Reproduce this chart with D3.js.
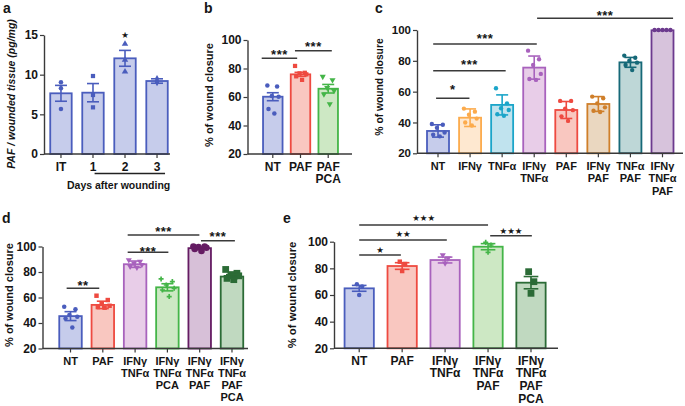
<!DOCTYPE html>
<html><head><meta charset="utf-8">
<script src="https://cdn.jsdelivr.net/npm/d3@7"></script>
<style>
body{margin:0;background:#fff;}
svg text{font-family:"Liberation Sans",Arial,Helvetica,sans-serif;font-weight:bold;fill:#151515;}
</style></head><body>
<svg id="chart" width="685" height="406"></svg>
<script>
// ---------- DATA ----------
// Panel a
const aCategories = [["IT"],["1"],["2"],["3"]];
const aMeans = [7.65, 7.73, 12.06, 9.2];
const aErrors = [1.0, 1.15, 1.0, 0.28];
const aPoints = [[9.03,8.28,5.67],[9.83,7.44,5.88],[13.87,11.85,10.38],[9.5,9.2,9.0]];
const aTicks = [0,5,10,15];
const aSig = [[2,2,null,"★",15.0]];
// Panel b
const bCategories = [["NT"],["PAF"],["PAF","PCA"]];
const bMeans = [60.2, 75.9, 65.8];
const bErrors = [2.8, 1.4, 3.0];
const bPoints = [[68,67.3,60.7,60.2,51.6,48.5],[81.8,77,76.6,75.9,74.5,72],[74.3,72,66.5,64.4,62,55.1]];
const bTicks = [20,40,60,80,100];
const bSig = [[-0.4,0.88,87.2,"***",91.8],[0.8,2.13,92.5,"***",97.7]];
// Panel c
const cCategories = [["NT"],["IFNγ"],["TNFα"],["IFNγ","TNFα"],["PAF"],["IFNγ","PAF"],["TNFα","PAF"],["IFNγ","TNFα","PAF"]];
const cMeans = [34.5, 43.1, 51.4, 75.6, 48.1, 52, 79, 99.8];
const cErrors = [4.0, 5.7, 6.5, 7.5, 5.5, 4.8, 3.2, 0];
const cPoints = [[39,38.5,36.5,33.5,32,31],[49,47,45,42.5,40,38],[62.2,52.4,49.2,48.1,45.3,44.4],[86.6,81,77.3,71.5,68.2,67.6],[54,54,49,48,44,41],[56.8,55.7,52.4,49.8,47.6,46.8],[83.4,82,80.1,78.8,77.3,74],[100,100,100,100,100]];
const cTicks = [20,40,60,80,100];
const cSig = [[-0.06,0.98,55.7,"*",63.2],[-0.15,2.11,73.6,"***",79.4],[-0.15,3.08,90.9,"***",96.3],[3.09,7.33,107.6,"***",111.2]];
// Panel d
const dCategories = [["NT"],["PAF"],["IFNγ","TNFα"],["IFNγ","TNFα","PCA"],["IFNγ","TNFα","PAF"],["IFNγ","TNFα","PAF","PCA"]];
const dMeans = [45.4, 54.2, 86.1, 68, 98.7, 76.4];
const dErrors = [3.5, 2.9, 2.5, 2.8, 0.8, 1.5];
const dPoints = [[52.8,50.7,46.2,44.9,43.6,36.5],[61.4,58,55,53.5,52.5,52],[89.5,88.2,86.9,85.6,84.3,83.5],[74.6,72.5,69.8,67.2,65.9,60.7],[100,100,99.5,99,98,96.5],[82,79,78,77,75,74]];
const dTicks = [20,40,60,80,100];
const dSig = [[-0.12,0.89,67.2,"**",71.6],[1.77,3.03,95.5,"***",98.5],[1.77,3.99,109,"***",113.7],[4.04,5.09,104.5,"***",109.8]];
// Panel e
const eCategories = [["NT"],["PAF"],["IFNγ","TNFα"],["IFNγ","TNFα","PAF"],["IFNγ","TNFα","PAF","PCA"]];
const eMeans = [65, 81.75, 86.25, 96.25, 69.25];
const eErrors = [2.2, 2.5, 2.2, 2.3, 4.6];
const ePoints = [[68,66.3,60],[85,83.25,78],[90,87.5,83.75],[99.5,97.5,92],[77.5,70,61.25]];
const eTicks = [20,40,60,80,100];
const eSig = [[0,0.97,90,"★",93.8],[0,2.04,101.3,"★★",105.8],[0,3.0,112.5,"★★★",117.8],[3.05,4.02,104.5,"★★★",108.3]];

// ---------- STYLE ----------
const palette = {
  blue:{stroke:"#4a5dbd", fill:"#c6cceb"},
  red:{stroke:"#ee4a40", fill:"#f9c7c0"},
  green:{stroke:"#44b548", fill:"#cde8c4"},
  orange:{stroke:"#fcab4c", fill:"#fee8d0"},
  cyan:{stroke:"#1ba5c9", fill:"#c0e3ee"},
  purple:{stroke:"#a862bd", fill:"#e8cde8"},
  brown:{stroke:"#cf7f2a", fill:"#ead7c0"},
  teal:{stroke:"#166978", fill:"#bed7d7"},
  plum:{stroke:"#6c3a8e", fill:"#d7c3dc"},
  wine:{stroke:"#651c63", fill:"#d7c0d8"},
  forest:{stroke:"#2b6b36", fill:"#c0d9c0"}
};
const axisColor = "#3a3a3a";
const j6 = [-0.28, 0.22, -0.05, 0.3, -0.22, 0.08];
const j5 = [-0.36,-0.18,0,0.18,0.36];
const j3 = [0,0,0];
const j3e = [-0.08,0.1,0];

const panels = [
  {letter:"a", lx:3, ly:13, cats:aCategories, means:aMeans, errs:aErrors, pts:aPoints, ticks:aTicks, sig:aSig,
   domain:[0,15], yRange:[154,35], xRange:[44,174], pi:0.33, po:0.195, axisEnd:170,
   colors:["blue","blue","blue","blue"], shapes:["circle","square","triangle","diamond"], sizes:[16,18,18,16],
   jit:[j3,j3,j3,j3], title:"PAF / wounded tissue (pg/mg)", italic:true, titleX:15, titleY:94, titleFont:10.5,
   tickFont:12, labFont:12, lineH:12.5},
  {letter:"b", lx:204, ly:13, cats:bCategories, means:bMeans, errs:bErrors, pts:bPoints, ticks:bTicks, sig:bSig,
   domain:[20,100], yRange:[154,40], xRange:[247.5,353.5], pi:0.296, po:0.561, axisEnd:352,
   colors:["blue","red","green"], shapes:["circle","square","triangleDown"], sizes:[16,18,16],
   jit:[j6,j6,j6], title:"% of wound closure", titleX:213, titleY:95, titleFont:11,
   tickFont:12, labFont:12, lineH:12.5},
  {letter:"c", lx:375, ly:13, cats:cCategories, means:cMeans, errs:cErrors, pts:cPoints, ticks:cTicks, sig:cSig,
   domain:[20,100], yRange:[153.3,30], xRange:[417,683.5], pi:0.314, po:0.312, axisEnd:683,
   colors:["blue","orange","cyan","purple","red","brown","teal","plum"], shapes:Array(8).fill("circle"), sizes:Array(8).fill(15),
   jit:[j6,j6,j6,j6,j6,j6,j6,j5], title:"% of wound closure", titleX:383, titleY:87, titleFont:10.3,
   tickFont:11.5, labFont:11, lineH:12.5},
  {letter:"d", lx:2, ly:223, cats:dCategories, means:dMeans, errs:dErrors, pts:dPoints, ticks:dTicks, sig:dSig,
   domain:[20,100], yRange:[348.5,246.5], xRange:[42.5,260], pi:0.303, po:0.519, axisEnd:248,
   colors:["blue","red","purple","green","wine","forest"], shapes:["circle","square","triangleDown","cross","circle","square"], sizes:[16,20,16,14,34,46],
   jit:[j6,j6,j6,j6,j6,j6], title:"% of wound closure", titleX:12.5, titleY:295, titleFont:11,
   tickFont:12, labFont:11, lineH:12},
  {letter:"e", lx:283, ly:223, cats:eCategories, means:eMeans, errs:eErrors, pts:ePoints, ticks:eTicks, sig:eSig,
   domain:[20,100], yRange:[348.3,241.7], xRange:[334,556.2], pi:0.318, po:0.246, axisEnd:558,
   colors:["blue","red","purple","green","forest"], shapes:["circle","square","triangleDown","cross","square"], sizes:[16,20,16,14,46],
   jit:[j3e,j3e,j3e,j3e,j3e], title:"% of wound closure", titleX:296, titleY:295, titleFont:11.3,
   tickFont:12, labFont:12, lineH:12.7}
];

const svg = d3.select("#chart");
const symType = {circle:d3.symbolCircle, square:d3.symbolSquare, triangle:d3.symbolTriangle,
  triangleDown:d3.symbolTriangle, diamond:d3.symbolDiamond, cross:d3.symbolCross};

function drawPanel(p) {
  const g = svg.append("g");
  const n = p.cats.length;
  const x = d3.scaleBand().domain(d3.range(n)).range(p.xRange).paddingInner(p.pi).paddingOuter(p.po);
  const y = d3.scaleLinear().domain(p.domain).range(p.yRange);
  const bw = x.bandwidth();
  const cx = i => x(i) + bw/2;
  const fx = f => cx(0) + f * x.step();
  const base = y(p.domain[0]);

  // bars
  g.selectAll("rect.bar").data(p.means).join("rect").attr("class","bar")
    .attr("x", (d,i) => x(i)).attr("y", d => y(d))
    .attr("width", bw).attr("height", d => base - y(d))
    .attr("fill", (d,i) => palette[p.colors[i]].fill)
    .attr("stroke", (d,i) => palette[p.colors[i]].stroke)
    .attr("stroke-width", 1.8);

  // points
  p.pts.forEach((arr, i) => {
    const col = palette[p.colors[i]].stroke;
    const sym = d3.symbol().type(symType[p.shapes[i]]).size(p.sizes[i]);
    g.selectAll(null).data(arr).join("path")
      .attr("d", sym)
      .attr("transform", (v,k) => `translate(${cx(i) + p.jit[i][k % p.jit[i].length]*bw},${y(v)})` + (p.shapes[i]==="triangleDown" ? " rotate(180)" : ""))
      .attr("fill", col);
  });

  // error bars
  const cap = Math.max(12, bw*0.5);
  p.means.forEach((m,i) => {
    const e = p.errs[i];
    if (!e) return;
    const col = palette[p.colors[i]].stroke;
    const eg = g.append("g").attr("stroke", col).attr("stroke-width", 1.6);
    eg.append("line").attr("x1", cx(i)).attr("x2", cx(i)).attr("y1", y(m-e)).attr("y2", y(m+e));
    [m-e, m+e].forEach(v => eg.append("line").attr("x1", cx(i)-cap/2).attr("x2", cx(i)+cap/2).attr("y1", y(v)).attr("y2", y(v)));
  });

  // y axis
  const ya = g.append("g").attr("transform", `translate(${p.xRange[0]},0)`)
    .call(d3.axisLeft(y).tickValues(p.ticks).tickSize(4).tickPadding(2).tickSizeOuter(0));
  ya.select(".domain").attr("stroke", axisColor).attr("stroke-width", 1.4);
  ya.selectAll(".tick line").attr("stroke", axisColor).attr("stroke-width", 1.2);
  ya.selectAll(".tick text").style("font-size", p.tickFont + "px");

  // x axis
  g.append("line").attr("x1", p.xRange[0]).attr("x2", p.axisEnd).attr("y1", base).attr("y2", base)
    .attr("stroke", axisColor).attr("stroke-width", 1.4);
  const xa = g.append("g").attr("transform", `translate(0,${base})`)
    .call(d3.axisBottom(x).tickSize(4).tickSizeOuter(0).tickFormat(""));
  xa.select(".domain").remove();
  xa.selectAll(".tick line").attr("stroke", axisColor).attr("stroke-width", 1.2);
  xa.selectAll(".tick text").remove();
  xa.selectAll(".tick").append("text")
    .attr("text-anchor", "middle").style("font-size", p.labFont + "px")
    .each(function(i) {
      const t = d3.select(this);
      p.cats[i].forEach((s, k) => t.append("tspan").attr("x", 0).attr("y", 16.5 + k*p.lineH).text(s));
    });

  // y title
  g.append("text").attr("transform", `translate(${p.titleX},${p.titleY}) rotate(-90)`)
    .attr("text-anchor", "middle").style("font-size", p.titleFont + "px")
    .style("font-style", p.italic ? "italic" : "normal").text(p.title);

  // significance
  p.sig.forEach(([f0, f1, lv, lab, at]) => {
    if (lv !== null) {
      g.append("line").attr("x1", fx(f0)).attr("x2", fx(f1)).attr("y1", y(lv)).attr("y2", y(lv))
        .attr("stroke", axisColor).attr("stroke-width", 1.6);
    }
    const star = lab.includes("★");
    const fs = star ? 8.5 : 13;
    const k = star ? 0.36 : 0.57;
    g.append("text").attr("x", fx((f0+f1)/2)).attr("y", y(at) + k*fs)
      .attr("text-anchor", "middle")
      .style("font-family", star ? "'DejaVu Sans',sans-serif" : null)
      .style("font-size", fs + "px").style("letter-spacing", star ? "0px" : "0.5px")
      .text(lab);
  });

  // panel letter
  svg.append("text").attr("x", p.lx).attr("y", p.ly).style("font-size", "14px").text(p.letter);
  return {x, y, cx, fx, base, g};
}

const res = panels.map(drawPanel);

// panel a extra: "Days after wounding" bracket
const A = res[0];
A.g.append("line").attr("x1", A.fx(1.05)).attr("x2", A.fx(3.25)).attr("y1", 173.5).attr("y2", 173.5)
  .attr("stroke", "#222").attr("stroke-width", 1.3);
A.g.append("text").attr("x", A.fx(1.8)).attr("y", 188.5).attr("text-anchor", "middle")
  .style("font-size", "10.5px").text("Days after wounding");
</script>
</body></html>
